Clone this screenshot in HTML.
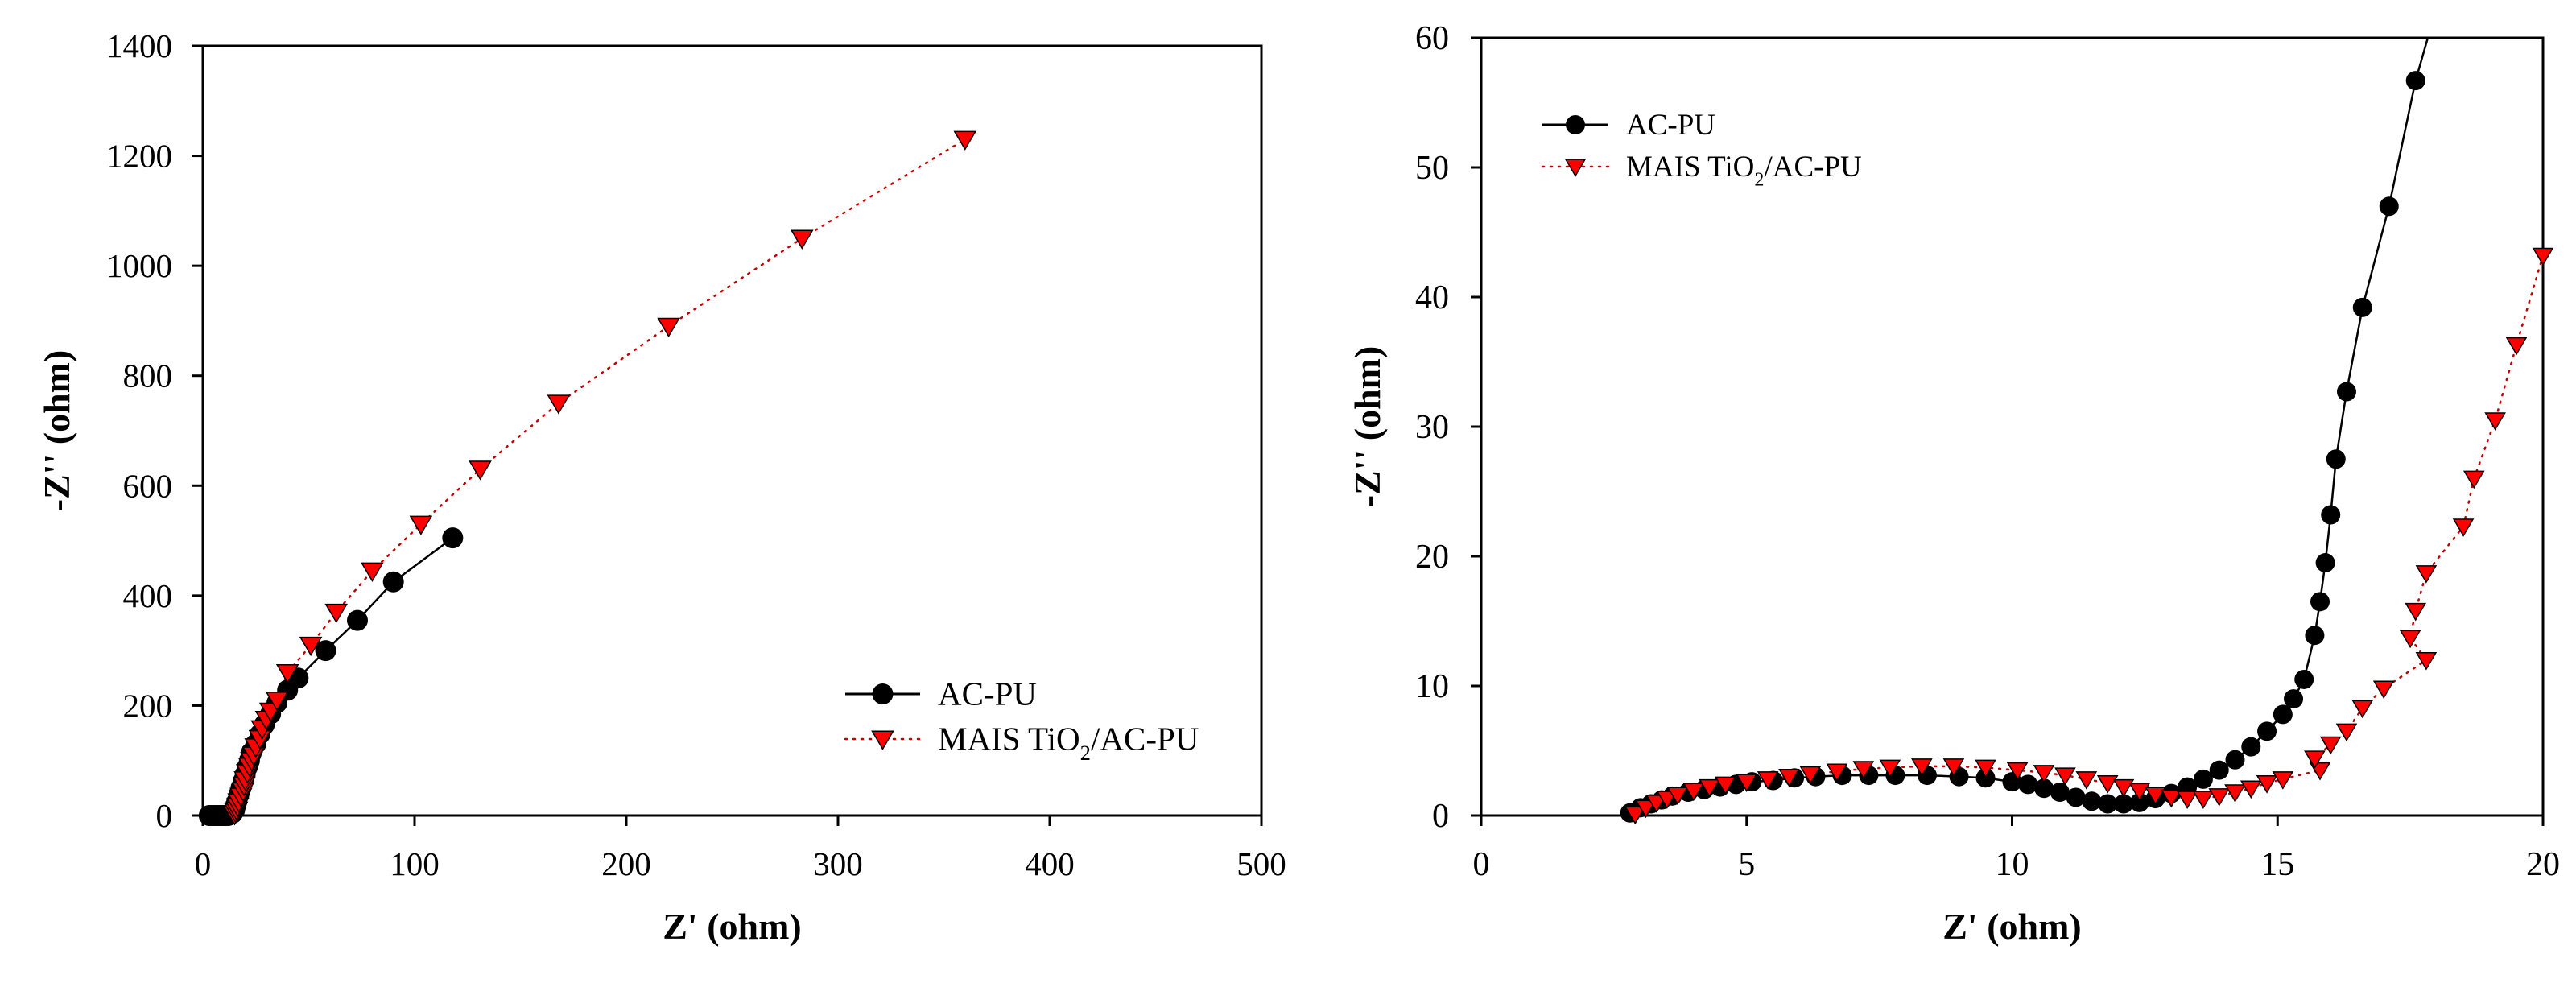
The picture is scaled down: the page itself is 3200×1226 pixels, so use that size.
<!DOCTYPE html>
<html><head><meta charset="utf-8"><style>
html,body{margin:0;padding:0;background:#fff;}
svg{display:block;font-family:"Liberation Serif",serif;}
</style></head><body>
<svg id="fig" width="3200" height="1226" viewBox="0 0 3200 1226" xmlns="http://www.w3.org/2000/svg">
<g id="left"></g>
<g id="right"></g>
</svg>
<script>
// Left chart data
const leftXTicks = [0,100,200,300,400,500];
const leftYTicks = [0,200,400,600,800,1000,1200,1400];
const leftAcX = [3,4,5,6,7,8,9,10,11,12,13,14,15,15.5,16,17,18,19,20,21,22,23,25,27,29,32,35,40,45,58,73,90,118];
const leftAcY = [0,0,0,0,0,0,0,0,0,0,2,4,10,18,25,38,50,62,75,88,100,115,130,148,165,185,205,228,250,300,355,425,505];
const leftTiX = [15,15.5,16,16.5,17,18,19,19.5,20,21,22,23,24,25,27,28,30,32,35,40,51,63,80,103,131,168,220,283,360];
const leftTiY = [2,6,10,17,25,35,45,55,65,78,90,100,110,125,140,158,175,190,210,260,310,370,445,530,630,750,890,1050,1230];
// Right chart data
const rightXTicks = [0,5,10,15,20];
const rightYTicks = [0,10,20,30,40,50,60];
const rightAcX = [2.8,3.0,3.2,3.4,3.6,3.9,4.2,4.5,4.8,5.1,5.5,5.9,6.3,6.8,7.3,7.8,8.4,9.0,9.5,10.0,10.3,10.6,10.9,11.2,11.5,11.8,12.1,12.4,12.7,13.0,13.3,13.6,13.9,14.2,14.5,14.8,15.1,15.3,15.5,15.7,15.8,15.9,16.0,16.1,16.3,16.6,17.1,17.6,17.9];
const rightAcY = [0.2,0.6,0.9,1.2,1.5,1.8,2.0,2.2,2.4,2.6,2.7,2.9,3.0,3.1,3.1,3.1,3.1,3.0,2.9,2.6,2.4,2.1,1.8,1.4,1.1,0.9,0.9,1.0,1.3,1.7,2.2,2.8,3.5,4.3,5.3,6.5,7.8,9.0,10.5,13.9,16.5,19.5,23.2,27.5,32.7,39.2,47,56.7,61];
const rightTiX = [2.9,3.1,3.3,3.5,3.7,4.0,4.3,4.6,5.0,5.4,5.8,6.2,6.7,7.2,7.7,8.3,8.9,9.5,10.1,10.6,11.0,11.4,11.8,12.1,12.4,12.7,13.0,13.3,13.6,13.9,14.2,14.5,14.8,15.1,15.8,15.7,16.0,16.3,16.6,17.0,17.8,17.5,17.6,17.8,18.5,18.7,19.1,19.5,20.0];
const rightTiY = [0.1,0.6,1.0,1.3,1.6,1.9,2.2,2.4,2.6,2.8,3.0,3.2,3.4,3.6,3.7,3.8,3.8,3.7,3.5,3.3,3.1,2.8,2.5,2.2,1.9,1.6,1.4,1.3,1.3,1.5,1.8,2.1,2.5,2.8,3.5,4.4,5.5,6.5,8.3,9.8,12.0,13.7,15.8,18.7,22.3,26,30.5,36.3,43.2];

const NS = "http://www.w3.org/2000/svg";
function mk(parent, tag, attrs, text) {
  const e = document.createElementNS(NS, tag);
  for (const k in attrs) e.setAttribute(k, attrs[k]);
  if (text !== undefined) e.textContent = text;
  parent.appendChild(e);
  return e;
}

function drawChart(g, cfg) {
  const sx = v => cfg.x0 + (v - cfg.xmin) / (cfg.xmax - cfg.xmin) * (cfg.x1 - cfg.x0);
  const sy = v => cfg.y0 - (v - cfg.ymin) / (cfg.ymax - cfg.ymin) * (cfg.y0 - cfg.y1);
  const clipId = cfg.id + "-clip";
  const defs = mk(g, "defs", {});
  const cp = mk(defs, "clipPath", {id: clipId});
  mk(cp, "rect", {x: cfg.x0 - 20, y: cfg.y1, width: cfg.x1 - cfg.x0 + 40, height: cfg.y0 - cfg.y1 + 20});

  const frame = mk(g, "rect", {x: cfg.x0, y: cfg.y1, width: cfg.x1 - cfg.x0, height: cfg.y0 - cfg.y1, fill: "none", stroke: "#000", "stroke-width": 3});
  
  

  cfg.xticks.forEach(t => {
    const x = sx(t);
    const tk = mk(g, "line", {x1: x, x2: x, y1: cfg.y0, y2: cfg.y0 + 13, stroke: "#000", "stroke-width": 3});
    
    
    const lb = mk(g, "text", {x: x, y: cfg.y0 + 74, "text-anchor": "middle", "font-size": cfg.tickFont}, String(t));
    
    
  });
  cfg.yticks.forEach(t => {
    const y = sy(t);
    const tk = mk(g, "line", {x1: cfg.x0 - 13, x2: cfg.x0, y1: y, y2: y, stroke: "#000", "stroke-width": 3});
    
    
    const lb = mk(g, "text", {x: cfg.ylabelX, y: y + 14, "text-anchor": "end", "font-size": cfg.tickFont}, String(t));
    
    
  });

  const xt = mk(g, "text", {x: (cfg.x0 + cfg.x1) / 2, y: 1166, "text-anchor": "middle", "font-size": 46, "font-weight": "bold"}, "Z' (ohm)");
  
  
  const yt = mk(g, "text", {x: 0, y: 0, "text-anchor": "middle", "font-size": 46, "font-weight": "bold", transform: `translate(${cfg.ytitleX},${(cfg.y0 + cfg.y1) / 2}) rotate(-90)`}, "-Z'' (ohm)");
  
  

  const pg = mk(g, "g", {"clip-path": `url(#${clipId})`});
  const tiPts = cfg.tiX.map((v, i) => sx(v) + "," + sy(cfg.tiY[i])).join(" ");
  const tl = mk(pg, "polyline", {points: tiPts, fill: "none", stroke: "#c00000", "stroke-width": 2.5, "stroke-dasharray": "2,8", "stroke-linecap": "round"});
  
  
  const acPts = cfg.acX.map((v, i) => sx(v) + "," + sy(cfg.acY[i])).join(" ");
  const al = mk(pg, "polyline", {points: acPts, fill: "none", stroke: "#000", "stroke-width": 2.5});
  
  
  cfg.acX.forEach((v, i) => {
    const c = mk(pg, "circle", {cx: sx(v), cy: sy(cfg.acY[i]), r: cfg.r, fill: "#000"});
    
    
  });
  cfg.tiX.forEach((v, i) => {
    const x = sx(v), y = sy(cfg.tiY[i]), s = cfg.tri;
    const p = mk(pg, "polygon", {points: `${x - s},${y - s * 0.75} ${x + s},${y - s * 0.75} ${x},${y + s * 0.95}`, fill: "#ff0000", stroke: "#000", "stroke-width": 1.5});
    
    
  });

  const L = cfg.legend;
  const lg = mk(g, "g", {});
  
  
  mk(lg, "line", {x1: L.x, x2: L.x + L.len, y1: L.y1, y2: L.y1, stroke: "#000", "stroke-width": 3});
  mk(lg, "circle", {cx: L.x + L.len / 2, cy: L.y1, r: cfg.r, fill: "#000"});
  const t1 = mk(lg, "text", {x: L.tx, y: L.y1 + L.fs * 0.33, "font-size": L.fs}, "AC-PU");
  
  
  mk(lg, "line", {x1: L.x, x2: L.x + L.len, y1: L.y2, y2: L.y2, stroke: "#c00000", "stroke-width": 2.5, "stroke-dasharray": "2,8", "stroke-linecap": "round"});
  const cx = L.x + L.len / 2, s = cfg.tri;
  mk(lg, "polygon", {points: `${cx - s},${L.y2 - s * 0.75} ${cx + s},${L.y2 - s * 0.75} ${cx},${L.y2 + s * 0.95}`, fill: "#ff0000", stroke: "#000", "stroke-width": 1.5});
  const t2 = mk(lg, "text", {x: L.tx, y: L.y2 + L.fs * 0.33, "font-size": L.fs});
  
  
  mk(t2, "tspan", {}, "MAIS TiO");
  mk(t2, "tspan", {dy: L.fs * 0.3, "font-size": L.fs * 0.65}, "2");
  mk(t2, "tspan", {dy: -L.fs * 0.3}, "/AC-PU");
}

drawChart(document.getElementById("left"), {
  id: "left", x0: 252, x1: 1567, y0: 1013, y1: 57,
  xmin: 0, xmax: 500, ymin: 0, ymax: 1400,
  xticks: leftXTicks, yticks: leftYTicks,
  acX: leftAcX, acY: leftAcY, tiX: leftTiX, tiY: leftTiY,
  tickFont: 41, ylabelX: 214, ytitleX: 86, r: 13, tri: 13,
  legend: {x: 1050, len: 93, y1: 862, y2: 918, tx: 1165, fs: 41}
});
drawChart(document.getElementById("right"), {
  id: "right", x0: 1840, x1: 3159, y0: 1013, y1: 47,
  xmin: 0, xmax: 20, ymin: 0, ymax: 60,
  xticks: rightXTicks, yticks: rightYTicks,
  acX: rightAcX, acY: rightAcY, tiX: rightTiX, tiY: rightTiY,
  tickFont: 42, ylabelX: 1800, ytitleX: 1714, r: 12, tri: 12,
  legend: {x: 1916, len: 82, y1: 155, y2: 207, tx: 2020, fs: 37}
});
</script>
</body></html>
